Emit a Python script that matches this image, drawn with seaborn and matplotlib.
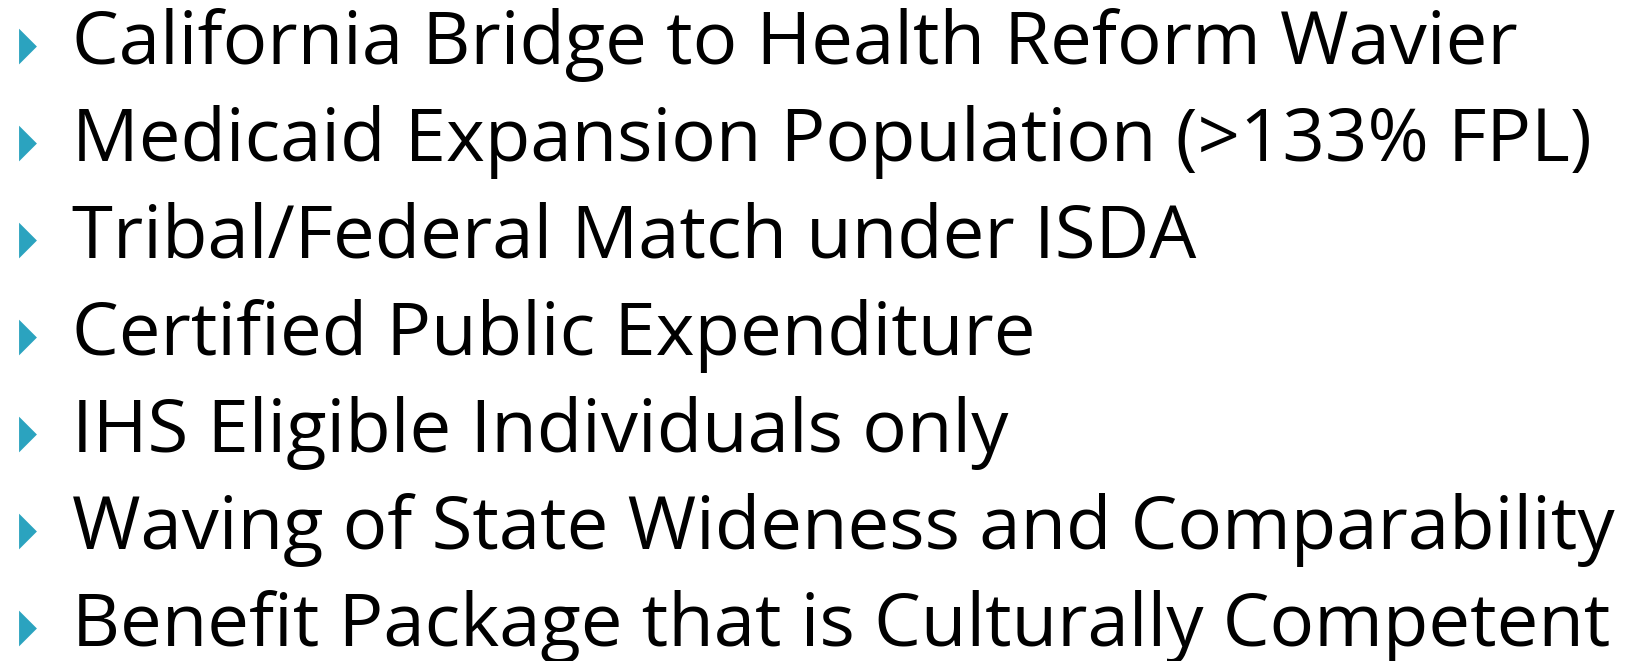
import matplotlib
matplotlib.use("Agg")
import matplotlib.pyplot as plt
import seaborn as sns
import pandas as pd

# slide bullet lines, top to bottom
bullet_lines = [
    "California Bridge to Health Reform Wavier",
    "Medicaid Expansion Population (>133% FPL)",
    "Tribal/Federal Match under ISDA",
    "Certified Public Expenditure",
    "IHS Eligible Individuals only",
    "Waving of State Wideness and Comparability",
    "Benefit Package that is Culturally Competent",
]
line_index = list(range(len(bullet_lines)))

BULLET_COLOR = "#2ba3bf"
TRIANGLE = [(-0.5, -1.0), (0.5, 0.0), (-0.5, 1.0), (-0.5, -1.0)]


def draw_slide():
    sns.set_theme(style="white")
    plt.rcParams["font.family"] = ["Open Sans", "DejaVu Sans"]

    fig = plt.figure(figsize=(16.38, 6.61), dpi=100)
    ax = fig.add_axes([0, 0, 1, 1])

    df = pd.DataFrame({"line": line_index, "text": bullet_lines})
    df["x"] = 28
    df["y"] = df["line"] - 0.18

    sns.scatterplot(data=df, x="x", y="y", marker=TRIANGLE, s=660,
                    color=BULLET_COLOR, edgecolor="none", ax=ax, legend=False)

    for _, row in df.iterrows():
        ax.text(72, row["line"], row["text"], fontsize=53.5, color="black",
                va="baseline", ha="left")

    ax.set_xlim(0, 1638)
    ax.set_ylim(6.155, -0.66)
    ax.axis("off")
    fig.savefig("out.png", dpi=100, facecolor="white")


if __name__ == "__main__":
    draw_slide()
